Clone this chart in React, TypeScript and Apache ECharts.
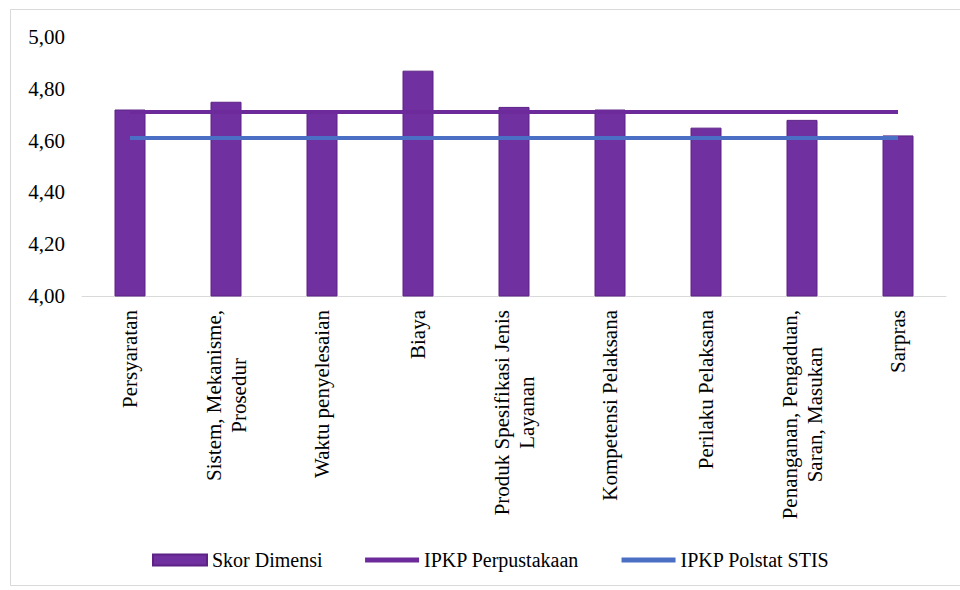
import React, { useEffect, useRef } from "react";
import * as echarts from "echarts";

const categories = [
  "Persyaratan",
  "Sistem, Mekanisme,\nProsedur",
  "Waktu penyelesaian",
  "Biaya",
  "Produk Spesifikasi Jenis\nLayanan",
  "Kompetensi Pelaksana",
  "Perilaku Pelaksana",
  "Penanganan, Pengaduan,\nSaran, Masukan",
  "Sarpras",
];
const skorDimensi = [4.72, 4.75, 4.71, 4.87, 4.73, 4.72, 4.65, 4.68, 4.62];
const ipkpPerpustakaan = [4.71, 4.71, 4.71, 4.71, 4.71, 4.71, 4.71, 4.71, 4.71];
const ipkpPolstat = [4.61, 4.61, 4.61, 4.61, 4.61, 4.61, 4.61, 4.61, 4.61];
const yTicks = { min: 4, max: 5, interval: 0.2 };

const SERIF = "Liberation Serif";

export default function App() {
  const ref = useRef<HTMLDivElement>(null);
  useEffect(() => {
    document.body.style.margin = "0";
    const chart = echarts.init(ref.current!, null, { renderer: "svg" });
    chart.setOption({
      animation: false,
      backgroundColor: "#ffffff",
      textStyle: { fontFamily: SERIF },
      graphic: [
        {
          type: "rect",
          left: 8,
          top: 7,
          shape: { width: 950, height: 576 },
          style: { fill: "none", stroke: "#d9d9d9", lineWidth: 1 },
          silent: true,
        },
      ],
      grid: { left: 82, right: 14, top: 37, bottom: 294, containLabel: false },
      legend: {
        left: 147,
        top: 545,
        itemWidth: 54,
        itemHeight: 11,
        itemGap: 40,
        textStyle: { color: "#000", fontFamily: SERIF, fontSize: 20 },
        data: [
          { name: "Skor Dimensi", icon: "rect" },
          { name: "IPKP Perpustakaan", itemStyle: { opacity: 0 }, lineStyle: { width: 5 } },
          { name: "IPKP Polstat STIS", itemStyle: { opacity: 0 }, lineStyle: { width: 5 } },
        ],
      },
      xAxis: {
        type: "category",
        data: categories,
        axisLine: { lineStyle: { color: "#d9d9d9", width: 1 } },
        axisTick: { show: false },
        axisLabel: {
          rotate: 90,
          margin: 14,
          interval: 0,
          color: "#000",
          formatter: (v: string) =>
            v
              .split("\n")
              .map((l) => `{c|${l}}`)
              .join("\n"),
          rich: {
            c: {
              align: "center",
              fontFamily: SERIF,
              fontSize: 21,
              lineHeight: 25,
              color: "#000",
            },
          },
        },
      },
      yAxis: {
        type: "value",
        min: yTicks.min,
        max: yTicks.max,
        interval: yTicks.interval,
        axisLine: { show: false },
        axisTick: { show: false },
        splitLine: { show: false },
        axisLabel: {
          margin: 17,
          color: "#000",
          fontFamily: SERIF,
          fontSize: 21,
          formatter: (v: number) => v.toFixed(2).replace(".", ","),
        },
      },
      series: [
        {
          name: "Skor Dimensi",
          type: "bar",
          data: skorDimensi,
          barWidth: 31,
          itemStyle: { color: "#7030A0", borderColor: "#5c2385", borderWidth: 1 },
          z: 1,
        },
        {
          name: "IPKP Perpustakaan",
          type: "line",
          data: ipkpPerpustakaan,
          symbol: "none",
          lineStyle: { color: "#6c2a9b", width: 4 },
          itemStyle: { color: "#6c2a9b" },
          z: 3,
        },
        {
          name: "IPKP Polstat STIS",
          type: "line",
          data: ipkpPolstat,
          symbol: "none",
          lineStyle: { color: "#4a6fc4", width: 4 },
          itemStyle: { color: "#4a6fc4" },
          z: 4,
        },
      ],
    });
    return () => chart.dispose();
  }, []);
  return <div ref={ref} style={{ width: 960, height: 590 }} />;
}
